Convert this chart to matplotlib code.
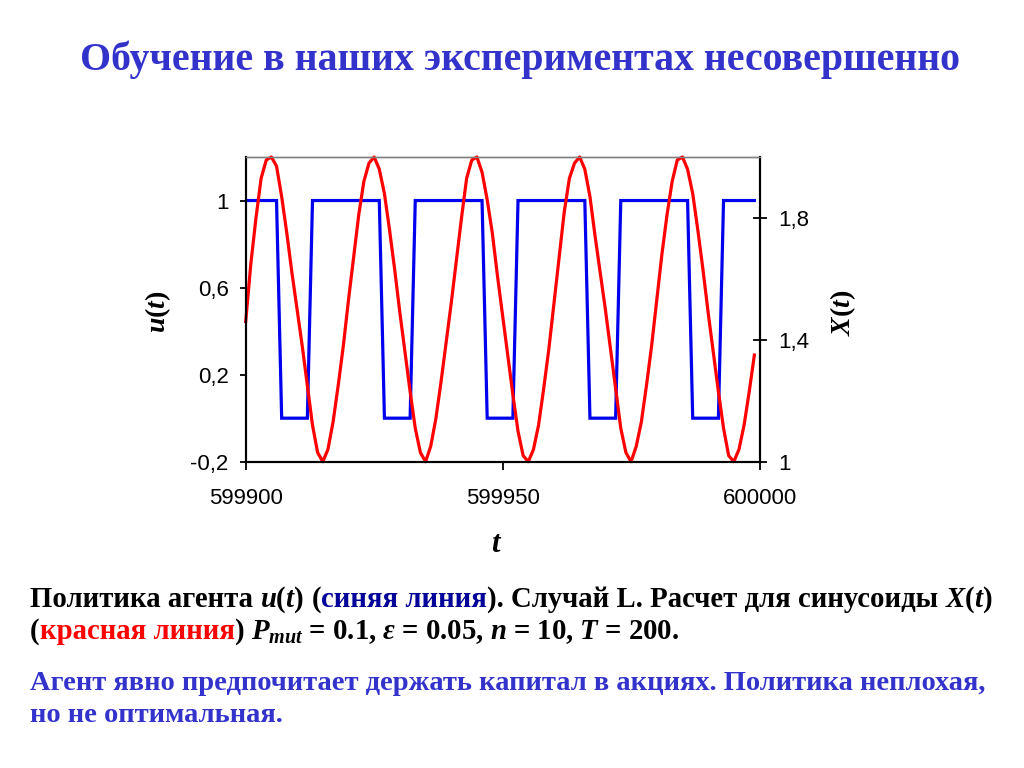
import numpy as np
import matplotlib
matplotlib.use("Agg")
from matplotlib import pyplot as plt

plt.rcParams['mathtext.fontset'] = 'custom'
plt.rcParams['mathtext.rm'] = 'Liberation Serif:bold'
plt.rcParams['mathtext.bf'] = 'Liberation Serif:bold'
plt.rcParams['mathtext.it'] = 'Liberation Serif:italic:bold'

# time steps shown on the chart
t_start = 599900
t = np.arange(t_start, t_start + 100)

# agent policy u(t) (blue)
u = [1, 1, 1, 1, 1, 1, 1, 0, 0, 0, 0, 0, 0, 1, 1, 1, 1, 1, 1, 1,
     1, 1, 1, 1, 1, 1, 1, 0, 0, 0, 0, 0, 0, 1, 1, 1, 1, 1, 1, 1,
     1, 1, 1, 1, 1, 1, 1, 0, 0, 0, 0, 0, 0, 1, 1, 1, 1, 1, 1, 1,
     1, 1, 1, 1, 1, 1, 1, 0, 0, 0, 0, 0, 0, 1, 1, 1, 1, 1, 1, 1,
     1, 1, 1, 1, 1, 1, 1, 0, 0, 0, 0, 0, 0, 1, 1, 1, 1, 1, 1, 1]

# price X(t) (red)
x_price = [1.46, 1.65, 1.80, 1.93, 1.99, 2.00, 1.97, 1.87, 1.75, 1.62,
           1.50, 1.38, 1.25, 1.12, 1.03, 1.00, 1.04, 1.13, 1.25, 1.38,
           1.53, 1.67, 1.81, 1.92, 1.98, 2.00, 1.96, 1.88, 1.76, 1.63,
           1.49, 1.36, 1.23, 1.11, 1.03, 1.00, 1.05, 1.14, 1.26, 1.39,
           1.52, 1.66, 1.80, 1.93, 1.99, 2.00, 1.95, 1.86, 1.75, 1.61,
           1.48, 1.35, 1.22, 1.10, 1.02, 1.00, 1.04, 1.12, 1.24, 1.37,
           1.52, 1.67, 1.82, 1.93, 1.98, 2.00, 1.96, 1.87, 1.74, 1.62,
           1.50, 1.37, 1.24, 1.11, 1.03, 1.00, 1.05, 1.13, 1.25, 1.38,
           1.53, 1.68, 1.81, 1.92, 1.99, 2.00, 1.96, 1.88, 1.76, 1.63,
           1.49, 1.36, 1.23, 1.11, 1.02, 1.00, 1.04, 1.12, 1.23, 1.35]

x_ticks = [599900, 599950, 600000]
x_tick_labels = ['599900', '599950', '600000']
u_ticks = [-0.2, 0.2, 0.6, 1.0]
u_tick_labels = ['-0,2', '0,2', '0,6', '1']
p_ticks = [1.0, 1.4, 1.8]
p_tick_labels = ['1', '1,4', '1,8']

title = 'Обучение в наших экспериментах несовершенно'
caption1 = [('Политика агента', 'black'), None, ('$u$($t$)', 'black'), None,
            ('(', 'black'), ('синяя линия', '#000099'),
            ('). Случай L. Расчет для синусоиды', 'black'), None,
            ('$X$($t$)', 'black')]
caption2 = [('(', 'black'), ('красная линия', '#FF0000'), (')', 'black'), None,
            ('$P_{mut}$ = 0.1, $ε$ = 0.05, $n$ = 10, $T$ = 200.', 'black')]
note1 = 'Агент явно предпочитает держать капитал в акциях. Политика неплохая,'
note2 = 'но не оптимальная.'

W, H = 1024, 768
fig = plt.figure(figsize=(W / 100, H / 100), dpi=100)
fig.patch.set_facecolor('white')

ax = fig.add_axes([245.7 / W, 1 - 461.7 / H, (759.5 - 245.7) / W, (461.7 - 157) / H])
ax.plot(t, u, color='#0000EE', lw=2.3, solid_joinstyle='miter')
ax.set_xlim(599900, 600000)
ax.set_ylim(-0.2, 1.2)
ax.set_xticks(x_ticks, x_tick_labels)
ax.set_yticks(u_ticks, u_tick_labels)

ax2 = ax.twinx()
ax2.plot(t, x_price, color='#FF0000', lw=2.3, solid_joinstyle='round', clip_on=False)
ax2.set_ylim(1, 2)
ax2.set_yticks(p_ticks, p_tick_labels)

for a in (ax, ax2):
    for side in ('left', 'right', 'bottom'):
        a.spines[side].set_color('black')
        a.spines[side].set_linewidth(1.5)
    a.spines['top'].set_color('#808080')
    a.spines['top'].set_linewidth(1.0)

ax.tick_params(axis='y', direction='out', length=4.3, width=1.3, pad=8)
ax.tick_params(axis='x', direction='out', length=5.5, width=1.3, pad=13.5)
ax2.tick_params(axis='y', direction='inout', length=9.5, width=1.3, pad=8.6)
for lab in ax.get_xticklabels() + ax.get_yticklabels() + ax2.get_yticklabels():
    lab.set_fontfamily('Liberation Sans')
    lab.set_fontsize(16)

serif = {'family': 'Liberation Serif', 'weight': 'bold'}
fig.text(158 / W, 1 - 312 / H, '$u$($t$)', rotation=90, ha='center', va='center',
         fontsize=20, **serif)
fig.text(843 / W, 1 - 313 / H, '$X$($t$)', rotation=90, ha='center', va='center',
         fontsize=20, **serif)
fig.text(497 / W, 1 - 545 / H, '$t$', ha='center', va='center', fontsize=22, **serif)

renderer = fig.canvas.get_renderer()


def fit_text(s, x0, y, target, color, size=30):
    tx = fig.text(x0 / W, 1 - y / H, s, color=color, fontsize=size, va='baseline', **serif)
    w = tx.get_window_extent(renderer).width
    tx.set_fontsize(size * target / w)
    return tx.get_fontsize()


def draw_parts(parts, x0, y, size):
    x = x0
    for p in parts:
        if p is None:
            x += 0.25 * size * 100 / 72
            continue
        s, c = p
        tx = fig.text(x / W, 1 - y / H, s, color=c, fontsize=size, va='baseline', **serif)
        x += tx.get_window_extent(renderer).width
    return x - x0


fit_text(title, 80, 70, 880, '#3333CC')

# fit the two-coloured caption to the width of its first line
probe = draw_parts(caption1, 0, -200, 20)
for tx in list(fig.texts):
    if tx.get_position()[1] > 1.1:
        tx.remove()
cap_size = 20 * 961 / probe
draw_parts(caption1, 30, 606.7, cap_size)
draw_parts(caption2, 30, 639, cap_size)

note_size = fit_text(note1, 30, 690, 955, '#3333CC')
fig.text(30 / W, 1 - 721.7 / H, note2, color='#3333CC', fontsize=note_size,
         va='baseline', **serif)

fig.savefig('out.png', dpi=100)
